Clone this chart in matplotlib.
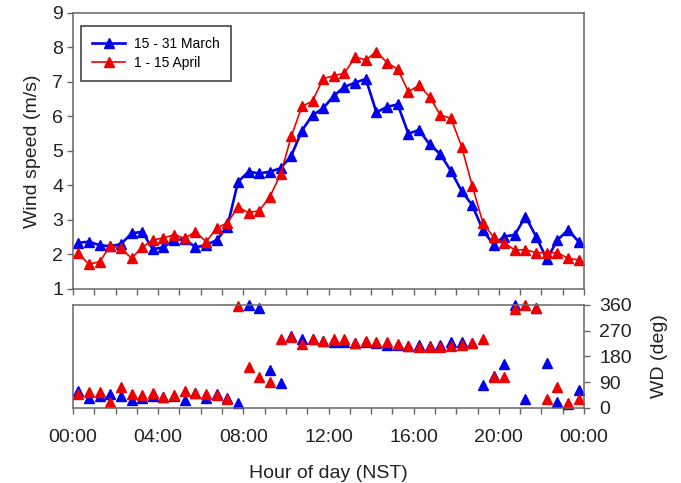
import matplotlib
matplotlib.use('Agg')
import matplotlib.pyplot as plt

plt.rcParams['font.family'] = ['Liberation Sans', 'DejaVu Sans']

# half-hourly means, plotted at the middle of each half hour
hours = [0.25, 0.75, 1.25, 1.75, 2.25, 2.75, 3.25, 3.75, 4.25, 4.75, 5.25, 5.75,
         6.25, 6.75, 7.25, 7.75, 8.25, 8.75, 9.25, 9.75, 10.25, 10.75, 11.25, 11.75,
         12.25, 12.75, 13.25, 13.75, 14.25, 14.75, 15.25, 15.75, 16.25, 16.75, 17.25, 17.75,
         18.25, 18.75, 19.25, 19.75, 20.25, 20.75, 21.25, 21.75, 22.25, 22.75, 23.25, 23.75]

ws_march = [2.34, 2.37, 2.27, 2.24, 2.30, 2.61, 2.66, 2.15, 2.21, 2.42, 2.44, 2.21,
            2.27, 2.42, 2.81, 4.11, 4.40, 4.35, 4.40, 4.50, 4.86, 5.59, 6.04, 6.24,
            6.60, 6.86, 6.98, 7.09, 6.12, 6.28, 6.35, 5.50, 5.61, 5.19, 4.91, 4.42,
            3.84, 3.43, 2.71, 2.28, 2.52, 2.57, 3.10, 2.52, 1.86, 2.42, 2.71, 2.37]
ws_april = [2.03, 1.72, 1.79, 2.25, 2.18, 1.89, 2.21, 2.42, 2.48, 2.57, 2.47, 2.66,
            2.37, 2.76, 2.92, 3.37, 3.21, 3.27, 3.68, 4.33, 5.42, 6.29, 6.45, 7.10,
            7.18, 7.26, 7.72, 7.64, 7.88, 7.56, 7.37, 6.72, 6.90, 6.57, 6.04, 5.95,
            5.13, 3.99, 2.92, 2.50, 2.34, 2.13, 2.14, 2.05, 2.05, 2.05, 1.89, 1.84]

wd_march = [60, 36, 42, 48, 42, 27, 36, 42, 40, 42, 28, 54,
            36, 48, 36, 16, 360, 348, 134, 87, 250, 242, 240, 235,
            231, 231, 228, 231, 228, 219, 219, 216, 221, 216, 221, 231,
            231, 228, 80, 113, 154, 360, 31, 350, 158, 21, 14, 62]
wd_april = [48, 57, 56, 21, 74, 48, 45, 54, 40, 46, 60, 51,
            50, 45, 30, 357, 142, 107, 92, 242, 248, 225, 241, 235,
            241, 241, 228, 235, 231, 231, 222, 216, 213, 213, 213, 215,
            221, 228, 242, 107, 109, 346, 360, 350, 31, 72, 16, 31]

tick_hours = list(range(25))
tick_labels = ['00:00', '04:00', '08:00', '12:00', '16:00', '20:00', '00:00']
wd_ticks = [0, 90, 180, 270, 360]

spine_col = '#666666'
text_col = '#222222'

fig = plt.figure(figsize=(6.81, 4.83), dpi=100)
ax1 = fig.add_axes([0.1072, 0.4017, 0.7504, 0.5714])
ax2 = fig.add_axes([0.1072, 0.1553, 0.7504, 0.2133])

# wind speed
ax1.plot(hours, ws_march, color='#0000ee', lw=1.9, marker='^', ms=7,
         label='15 - 31 March')
ax1.plot(hours, ws_april, color='#ee0000', lw=1.2, marker='^', ms=7,
         label='1 - 15 April')
ax1.set_xlim(0, 24)
ax1.set_ylim(1, 9)
ax1.set_yticks(range(1, 10))
ax1.set_xticks(tick_hours)
ax1.set_xticklabels([])
ax1.set_ylabel('Wind speed (m/s)', fontsize=14, color=text_col, labelpad=8)
leg = ax1.legend(loc='upper left', bbox_to_anchor=(0.0157, 0.953), borderaxespad=0,
                 fontsize=10, frameon=True, fancybox=False, framealpha=1,
                 edgecolor='#444444', handlelength=2.4, handletextpad=0.6,
                 borderpad=0.8, labelspacing=0.35)
leg.get_frame().set_linewidth(1.2)

# wind direction
ax2.plot(hours, wd_march, ls='none', color='#0000ee', marker='^', ms=7.5, clip_on=False)
ax2.plot(hours, wd_april, ls='none', color='#ee0000', marker='^', ms=7.5, clip_on=False)
ax2.set_xlim(0, 24)
ax2.set_ylim(0, 360)
ax2.yaxis.tick_right()
ax2.yaxis.set_label_position('right')
ax2.set_yticks(wd_ticks)
ax2.set_xticks(tick_hours)
ax2.set_xticklabels([tick_labels[h // 4] if h % 4 == 0 else '' for h in tick_hours])
ax2.set_ylabel('WD (deg)', fontsize=14, color=text_col, labelpad=14)
ax2.set_xlabel('Hour of day (NST)', fontsize=14, color=text_col, labelpad=14)

for ax in (ax1, ax2):
    for s in ax.spines.values():
        s.set_color(spine_col)
        s.set_linewidth(1.1)
    ax.tick_params(direction='out', length=4, width=1, color=spine_col,
                   labelsize=14, labelcolor=text_col, pad=3)
ax2.tick_params(axis='x', pad=11)
ax2.tick_params(axis='y', pad=7)

fig.savefig('out.png', dpi=100)
